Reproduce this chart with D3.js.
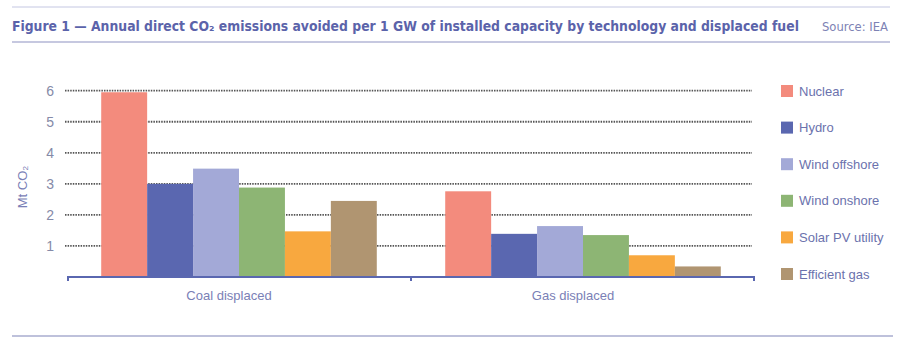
<!DOCTYPE html>
<html>
<head>
<meta charset="utf-8">
<script src="https://cdn.jsdelivr.net/npm/d3@7"></script>
<style>
  body { margin: 0; background: #fff; }
  svg { display: block; font-family: "Liberation Sans Narrow", "DejaVu Sans Condensed", sans-serif; }
</style>
</head>
<body>
<div class="chart"></div>
<script>
// groups along the x axis and the technologies inside each group
var groups = ["Coal displaced", "Gas displaced"];
var techs = ["Nuclear", "Hydro", "Wind offshore", "Wind onshore", "Solar PV utility", "Efficient gas"];
var colors = ["#f38b7d", "#5a67b0", "#a3a9d7", "#8db574", "#f8a83f", "#b09571"];

// Mt CO2 avoided per GW, one array per displaced fuel
var coalValues = [5.95, 3.0, 3.49, 2.88, 1.47, 2.45];
var gasValues = [2.76, 1.39, 1.64, 1.35, 0.70, 0.34];
var yTicks = [1, 2, 3, 4, 5, 6];

var data = groups.map(function(g, i) {
  var vals = i === 0 ? coalValues : gasValues;
  return { group: g, bars: techs.map(function(t, j) { return { tech: t, value: vals[j], color: colors[j] }; }) };
});

var W = 900, H = 342;
var svg = d3.select(".chart").append("svg")
    .attr("width", W)
    .attr("height", H);

// header rules + title
svg.append("line").attr("x1", 12).attr("x2", 890).attr("y1", 7).attr("y2", 7)
    .attr("stroke", "#c4c7e2").attr("stroke-width", 1);
svg.append("line").attr("x1", 12).attr("x2", 890).attr("y1", 42).attr("y2", 42)
    .attr("stroke", "#8d91c2").attr("stroke-width", 1.2);
svg.append("line").attr("x1", 12).attr("x2", 893).attr("y1", 336).attr("y2", 336)
    .attr("stroke", "#7f84b8").attr("stroke-width", 1.2);

// shrink a text's font until it fits the given width
function fitText(sel, maxW, size) {
  sel.style("font-size", size + "px");
  var w = sel.node().getComputedTextLength();
  if (w > maxW) sel.style("font-size", (size * maxW / w) + "px");
}

var title = svg.append("text")
    .attr("x", 12).attr("y", 31)
    .attr("fill", "#5b63aa")
    .style("font-weight", "bold")
    .text("Figure 1 \u2014 Annual direct CO\u2082 emissions avoided per 1 GW of installed capacity by technology and displaced fuel");
fitText(title, 788, 16);

var source = svg.append("text")
    .attr("x", 822).attr("y", 31)
    .attr("fill", "#7d82b4")
    .text("Source: IEA");
fitText(source, 66, 15);

// scales
var x0 = d3.scaleBand().domain(groups).range([67, 755]).padding(0);
var x1 = d3.scaleBand().domain(techs).range([0, x0.bandwidth()]).paddingInner(0).paddingOuter(0.745);
var y = d3.scaleLinear().domain([0, 6]).range([277, 90.7]);

// dotted gridlines
svg.append("g")
  .selectAll("line")
  .data(yTicks)
  .enter().append("line")
    .attr("x1", 65).attr("x2", 752)
    .attr("y1", function(d) { return y(d); })
    .attr("y2", function(d) { return y(d); })
    .attr("stroke", "#555")
    .attr("stroke-width", 1.8)
    .attr("stroke-dasharray", "1.5,1.1");

// y labels
svg.append("g")
  .selectAll("text")
  .data(yTicks)
  .enter().append("text")
    .attr("x", 54)
    .attr("y", function(d) { return y(d); })
    .attr("dy", "0.35em")
    .attr("text-anchor", "end")
    .attr("fill", "#858aa8")
    .style("font-family", "'Liberation Sans', sans-serif")
    .style("font-size", "14px")
    .text(function(d) { return d; });

svg.append("text")
    .attr("transform", "translate(27,187) rotate(-90)")
    .attr("text-anchor", "middle")
    .attr("fill", "#7a80b6")
    .style("font-family", "'Liberation Sans', sans-serif")
    .style("font-size", "13px")
    .text("Mt CO\u2082");

// bars
var g = svg.append("g")
  .selectAll("g")
  .data(data)
  .enter().append("g")
    .attr("transform", function(d) { return "translate(" + x0(d.group) + ",0)"; });

g.selectAll("rect")
  .data(function(d) { return d.bars; })
  .enter().append("rect")
    .attr("x", function(d) { return x1(d.tech); })
    .attr("width", x1.bandwidth())
    .attr("y", function(d) { return y(d.value); })
    .attr("height", function(d) { return y(0) - y(d.value); })
    .attr("fill", function(d) { return d.color; });

// x axis: baseline with small ticks at band edges
var xAxis = svg.append("g").attr("transform", "translate(0," + y(0) + ")");
xAxis.append("line").attr("x1", 67).attr("x2", 755)
    .attr("stroke", "#5a67b0").attr("stroke-width", 2);
xAxis.selectAll(".tick")
  .data(groups.map(function(d) { return x0(d); }).concat([x0.range()[1]]))
  .enter().append("line")
    .attr("x1", function(d, i) { return i === 0 ? d + 1 : (i === groups.length ? d - 1 : d); })
    .attr("x2", function(d, i) { return i === 0 ? d + 1 : (i === groups.length ? d - 1 : d); })
    .attr("y1", 0).attr("y2", 4)
    .attr("stroke", "#5a67b0").attr("stroke-width", 2);

xAxis.selectAll(".lbl")
  .data(groups)
  .enter().append("text")
    .attr("x", function(d) { return x0(d) + x0.bandwidth() / 2 - 10; })
    .attr("y", 23)
    .attr("text-anchor", "middle")
    .attr("fill", "#7a80b6")
    .style("font-family", "'Liberation Sans', sans-serif")
    .style("font-size", "13px")
    .text(function(d) { return d; });

// legend
var legend = svg.append("g")
  .selectAll("g")
  .data(techs)
  .enter().append("g")
    .attr("transform", function(d, i) { return "translate(781," + (91 + i * 36.6) + ")"; });

legend.append("rect")
    .attr("x", 0).attr("y", -6)
    .attr("width", 12).attr("height", 12)
    .attr("fill", function(d, i) { return colors[i]; });

legend.append("text")
    .attr("x", 18).attr("y", 0)
    .attr("dy", "0.35em")
    .attr("fill", "#6b72ad")
    .style("font-family", "'Liberation Sans', sans-serif")
    .style("font-size", "13px")
    .text(function(d) { return d; });
</script>
</body>
</html>
